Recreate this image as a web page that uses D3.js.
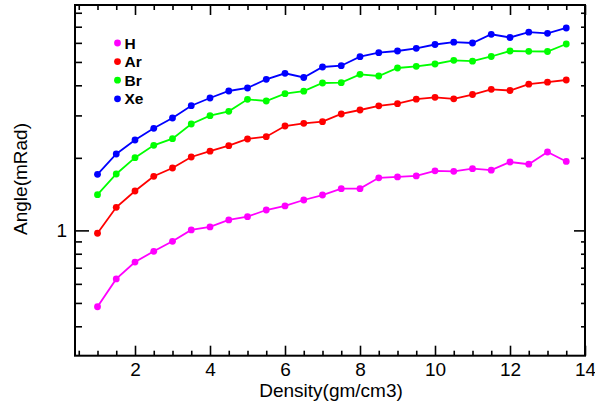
<!DOCTYPE html>
<html><head><meta charset="utf-8">
<script src="https://cdn.jsdelivr.net/npm/d3@7"></script>
<style>
body{margin:0;background:#fff;}
text{font-family:"Liberation Sans",Arial,sans-serif;}
</style></head>
<body><svg id="c" width="595" height="409"></svg>
<script>
const density=[1,1.5,2,2.5,3,3.5,4,4.5,5,5.5,6,6.5,7,7.5,8,8.5,9,9.5,10,10.5,11,11.5,12,12.5,13,13.5];
const H=[0.482,0.629,0.739,0.819,0.901,1.004,1.034,1.105,1.140,1.215,1.263,1.337,1.402,1.490,1.490,1.653,1.666,1.682,1.767,1.759,1.803,1.778,1.922,1.882,2.115,1.932];
const Ar=[0.973,1.247,1.457,1.677,1.815,2.016,2.131,2.246,2.395,2.448,2.711,2.782,2.825,3.041,3.159,3.289,3.355,3.503,3.567,3.516,3.663,3.850,3.806,4.043,4.121,4.208];
const Br=[1.407,1.714,2.003,2.255,2.401,2.764,2.992,3.120,3.499,3.443,3.692,3.781,4.089,4.101,4.443,4.372,4.719,4.797,4.903,5.080,5.036,5.267,5.551,5.535,5.525,5.935];
const Xe=[1.709,2.075,2.372,2.652,2.927,3.292,3.543,3.788,3.898,4.236,4.486,4.310,4.764,4.824,5.257,5.462,5.551,5.696,5.907,6.038,5.992,6.512,6.316,6.644,6.575,6.917];
const seriesNames=["H","Ar","Br","Xe"];
const seriesColors=["#ff00ff","#ff0000","#00ff00","#0000ff"];
const xMajorTicks=[2,4,6,8,10,12,14];
const xMinorTicks=[0.5,1,1.5,2.5,3,3.5,4.5,5,5.5,6.5,7,7.5,8.5,9,9.5,10.5,11,11.5,12.5,13,13.5];
const yMajorTicks=[1];
const yMinorTicks=[0.4,0.5,0.6,0.7,0.8,0.9,2,3,4,5,6,7,8];
const xTitle="Density(gm/cm3)", yTitle="Angle(mRad)";

const L=75,R=585,T=5,B=355.7;
const svg=d3.select("#c");
const x=d3.scaleLinear().domain([0.4,14]).range([L,R]);
const y=d3.scaleLog().domain([0.302,8.615]).range([B,T]);

function styleAxis(g){g.select(".domain").remove();g.selectAll("line").attr("stroke","#000").attr("stroke-width",1.6);g.selectAll("text").attr("font-size",19).attr("fill","#000").attr("font-family","Liberation Sans, Arial, sans-serif");}

// bottom
svg.append("g").attr("transform",`translate(0,${B})`).call(d3.axisBottom(x).tickValues(xMajorTicks).tickSize(-10).tickPadding(7).tickFormat(d3.format("d"))).call(styleAxis);
svg.append("g").attr("transform",`translate(0,${B})`).call(d3.axisBottom(x).tickValues(xMinorTicks).tickSize(-5).tickFormat("")).call(styleAxis);
// top
svg.append("g").attr("transform",`translate(0,${T})`).call(d3.axisTop(x).tickValues(xMajorTicks).tickSize(-10).tickFormat("")).call(styleAxis);
svg.append("g").attr("transform",`translate(0,${T})`).call(d3.axisTop(x).tickValues(xMinorTicks).tickSize(-5).tickFormat("")).call(styleAxis);
// left
svg.append("g").attr("transform",`translate(${L},0)`).call(d3.axisLeft(y).tickValues(yMajorTicks).tickSize(-14).tickPadding(8).tickFormat(d3.format("d"))).call(styleAxis);
svg.append("g").attr("transform",`translate(${L},0)`).call(d3.axisLeft(y).tickValues(yMinorTicks).tickSize(-7).tickFormat("")).call(styleAxis);
// right
svg.append("g").attr("transform",`translate(${R},0)`).call(d3.axisRight(y).tickValues(yMajorTicks).tickSize(-11).tickFormat("")).call(styleAxis);
svg.append("g").attr("transform",`translate(${R},0)`).call(d3.axisRight(y).tickValues(yMinorTicks).tickSize(-4).tickFormat("")).call(styleAxis);

svg.append("rect").attr("x",L).attr("y",T).attr("width",R-L).attr("height",B-T).attr("fill","none").attr("stroke","#000").attr("stroke-width",2);

const all=[H,Ar,Br,Xe];
const line=d3.line().x((d,i)=>x(density[i])).y(d=>y(d));
all.forEach((vals,k)=>{
  svg.append("path").datum(vals).attr("d",line).attr("fill","none").attr("stroke",seriesColors[k]).attr("stroke-width",1.8);
  svg.append("g").selectAll("circle").data(vals).join("circle")
    .attr("cx",(d,i)=>x(density[i])).attr("cy",d=>y(d)).attr("r",3.4).attr("fill",seriesColors[k]);
});

// legend
const lg=svg.append("g");
seriesNames.forEach((n,k)=>{
  const cy=43+k*18.6;
  lg.append("circle").attr("cx",117.5).attr("cy",cy).attr("r",3.4).attr("fill",seriesColors[k]);
  lg.append("text").attr("x",124.5).attr("y",cy+5.6).attr("font-size",15.5).attr("font-weight","bold").text(n);
});

svg.append("text").attr("x",(L+R)/2+1).attr("y",396.5).attr("text-anchor","middle").attr("font-size",19).text(xTitle);
svg.append("text").attr("transform","translate(27,179) rotate(-90)").attr("text-anchor","middle").attr("font-size",19).text(yTitle);
</script></body></html>
